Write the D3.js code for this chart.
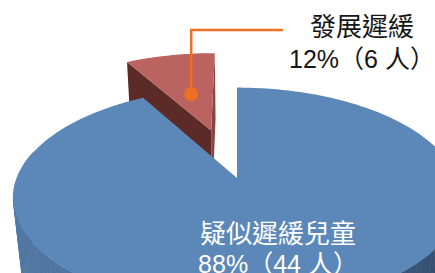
<!DOCTYPE html>
<html>
<head>
<meta charset="utf-8">
<script src="https://cdn.jsdelivr.net/npm/d3@7"></script>
<style>
  body { margin: 0; background: #fff; }
  svg { display: block; }
</style>
</head>
<body>
<div id="chart"></div>
<script>
// data
const categories = ["發展遲緩", "疑似遲緩兒童"];
const counts = [6, 44];
const percentLabels = ["12%", "88%"];
const explode = [0.5, 0];

const topColors = ["#BA6360", "#5B88B9"];
const sideColors = ["#5C2B27", "#5279A5"];

const width = 435, height = 273;

// fake 3d camera
const cx = 237, cy = 178, scale = 220;
const tilt = 29 * Math.PI / 180;
const persp = 0.18;
const sinA = Math.sin(tilt), cosA = Math.cos(tilt);
const perspY = persp * sinA / cosA;
const thickness = 0.42;

function project(X, Y, Z) {
    let d = 1 - persp * Z - perspY * Y;
    return [cx + scale * X / d, cy + scale * (Z * sinA - Y * cosA) / d];
}

// slices are laid out by angle around the middle of the drawn ellipse
const ellipseCy = (project(0, 0, -1)[1] + project(0, 0, 1)[1]) / 2;

function toDisc(a) {
    let lo = a - Math.PI / 2, hi = a + Math.PI / 2;
    for (let i = 0; i < 40; i++) {
        let m = (lo + hi) / 2;
        let p = project(Math.sin(m), 0, -Math.cos(m));
        let d = Math.atan2(p[0] - cx, ellipseCy - p[1]) - a;
        d = Math.atan2(Math.sin(d), Math.cos(d));
        if (d > 0) hi = m; else lo = m;
    }
    return (lo + hi) / 2;
}

function rimPoint(phi, off, Y) {
    return project(off[0] + Math.sin(phi), Y, off[1] - Math.cos(phi));
}

function rimPoints(phi0, phi1, off, Y) {
    let n = Math.max(2, Math.ceil(Math.abs(phi1 - phi0) / (Math.PI / 180)));
    let pts = [];
    for (let i = 0; i <= n; i++) {
        pts.push(rimPoint(phi0 + (phi1 - phi0) * i / n, off, Y));
    }
    return pts;
}

const line = d3.line().curve(d3.curveLinearClosed);

const svg = d3.select("#chart")
    .append("svg")
    .attr("width", width)
    .attr("height", height);

const pie = d3.pie().sort(null).startAngle(0).endAngle(-2 * Math.PI);
const slices = pie(counts).map((d, i) => {
    let phi0 = toDisc(d.startAngle);
    let phi1 = toDisc(d.endAngle);
    let mid = (phi0 + phi1) / 2;
    let off = [explode[i] * Math.sin(mid), -explode[i] * Math.cos(mid)];
    return {i, phi0, phi1, mid, off};
});

// red slice sits behind, draw it first
const red = slices[0];
const redG = svg.append("g");
[red.phi0, red.phi1].forEach((phi, k) => {
    let quad = [
        project(red.off[0], 0, red.off[1]),
        rimPoint(phi, red.off, 0),
        rimPoint(phi, red.off, -thickness),
        project(red.off[0], -thickness, red.off[1])
    ];
    redG.append("path")
        .attr("d", line(quad))
        .attr("fill", k === 0 ? "#8A4541" : sideColors[0]);
});
redG.append("path")
    .attr("d", line([project(red.off[0], 0, red.off[1])].concat(rimPoints(red.phi0, red.phi1, red.off, 0))))
    .attr("fill", topColors[0]);

// blue slice: outer wall then top
const blue = slices[1];
const wallShade = d3.interpolateRgb("#2E4260", sideColors[1]);
let segs = [];
let step = Math.PI / 180 * 2;
for (let a = blue.phi0; a > blue.phi1; a -= step) {
    let b = Math.max(a - step, blue.phi1);
    let m = (a + b) / 2;
    if (-Math.cos(m) < -0.25) continue;
    segs.push({a, b, z: -Math.cos(m), x: Math.sin(m)});
}
segs.sort((p, q) => p.z - q.z);
const blueG = svg.append("g");
segs.forEach(s => {
    let quad = [
        rimPoint(s.a, blue.off, 0),
        rimPoint(s.b, blue.off, 0),
        rimPoint(s.b, blue.off, -thickness),
        rimPoint(s.a, blue.off, -thickness)
    ];
    let c = wallShade(Math.pow((1 - s.x) / 2, 0.6));
    blueG.append("path")
        .attr("d", line(quad))
        .attr("fill", c)
        .attr("stroke", c)
        .attr("stroke-width", 0.6);
});
blueG.append("path")
    .attr("d", line([project(blue.off[0], 0, blue.off[1])].concat(rimPoints(blue.phi0, blue.phi1, blue.off, 0))))
    .attr("fill", topColors[1]);

// leader for the small slice
const anchor = project(red.off[0] + 0.45 * Math.sin(red.mid), 0, red.off[1] - 0.45 * Math.cos(red.mid));
const leaderY = 30, leaderEnd = 283;
svg.append("path")
    .attr("d", `M ${anchor[0]} ${anchor[1]} L ${anchor[0]} ${leaderY} L ${leaderEnd} ${leaderY}`)
    .attr("fill", "none")
    .attr("stroke", "#EE7024")
    .attr("stroke-width", 2.5);
svg.append("circle")
    .attr("cx", anchor[0])
    .attr("cy", anchor[1])
    .attr("r", 7)
    .attr("fill", "#EE7024");

// labels
const labelPos = [
    {x: 362, y1: 36, y2: 68, color: "#161616"},
    {x: 278, y1: 243, y2: 273, color: "#ffffff"}
];
const font = "'Liberation Sans', 'Noto Sans CJK TC', sans-serif";
categories.forEach((name, i) => {
    let lp = labelPos[i];
    let t = svg.append("text")
        .attr("text-anchor", "middle")
        .attr("font-family", font)
        .attr("fill", lp.color);
    t.append("tspan")
        .attr("x", lp.x)
        .attr("y", lp.y1)
        .attr("font-size", "26px")
        .text(name);
    t.append("tspan")
        .attr("x", lp.x)
        .attr("y", lp.y2)
        .attr("font-size", "25px")
        .text(`${percentLabels[i]}（${counts[i]} 人）`);
});
</script>
</body>
</html>
